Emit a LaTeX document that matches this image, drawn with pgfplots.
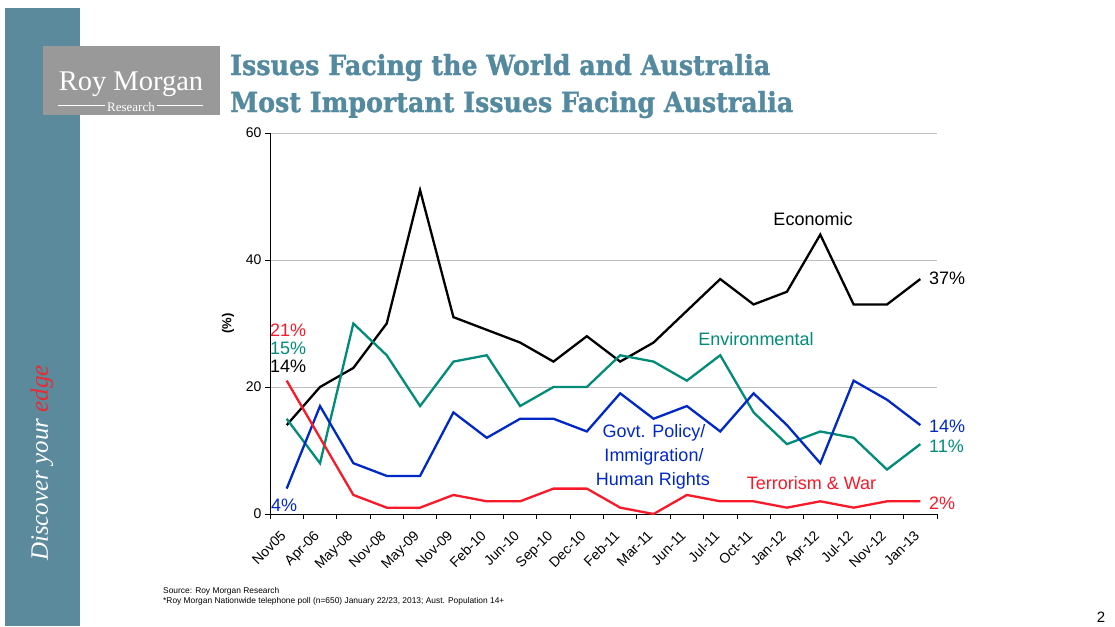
\documentclass[border=0pt]{standalone}
\usepackage{pgfplots}
\pgfplotsset{compat=1.18}
\usepackage{pgfplotstable}
\usepackage{fontspec}
\setmainfont{Liberation Sans}
\newfontfamily\seriffont{Liberation Serif}
\newfontfamily\titlefont{DejaVu Serif}[BoldFeatures={FakeBold=1.2}]
\definecolor{slate}{RGB}{90,138,156}
\definecolor{titlec}{RGB}{84,138,160}
\definecolor{logogray}{RGB}{153,153,153}
\definecolor{envc}{RGB}{0,140,120}
\definecolor{govc}{RGB}{0,40,200}
\definecolor{terc}{RGB}{250,25,40}
\definecolor{edgec}{RGB}{230,45,50}
\definecolor{gridc}{RGB}{190,190,190}

\pgfplotstableread{
x eco env gov ter
0 14 15 4 21
1 20 8 17 12
2 23 30 8 3
3 30 25 6 1
4 51 17 6 1
5 31 24 16 3
6 29 25 12 2
7 27 17 15 2
8 24 20 15 4
9 28 20 13 4
10 24 25 19 1
11 27 24 15 0
12 32 21 17 3
13 37 25 13 2
14 33 16 19 2
15 35 11 14 1
16 44 13 8 2
17 33 12 21 1
18 33 7 18 2
19 37 11 14 2
}\data

\begin{document}
\begin{tikzpicture}
\begin{scope}[x=1pt,y=1pt]
\useasboundingbox (0,0) rectangle (1115,-626);
\fill[white] (0,0) rectangle (1115,-626);
% sidebar
\fill[slate] (5,-8) rectangle (80,-626);
\node[rotate=90, white, inner sep=0, font=\seriffont\itshape\fontsize{25}{25}\selectfont] at (42,-463) {Discover your \textcolor{edgec}{edge}};
% logo
\fill[logogray] (43,-46) rectangle (220,-115);
\node[white, anchor=base, inner sep=0, font=\seriffont\fontsize{28.5}{28.5}\selectfont] at (131,-90) {Roy Morgan};
\node[white, inner sep=1.5pt, font=\seriffont\fontsize{13}{13}\selectfont] (res) at (131,-107) {Research};
\draw[white, line width=0.9pt] (58,-105) -- (res.west |- 0,-105);
\draw[white, line width=0.9pt] (res.east |- 0,-105) -- (203,-105);
% titles
\node[anchor=base west, inner sep=0, text=titlec] at (230,-75) {\resizebox{540pt}{21pt}{\titlefont\bfseries Issues Facing the World and Australia}};
\node[anchor=base west, inner sep=0, text=titlec] at (230,-112) {\resizebox{563pt}{21pt}{\titlefont\bfseries Most Important Issues Facing Australia}};
\end{scope}

\begin{axis}[
  at={(270pt,-514pt)}, anchor=south west,
  scale only axis, width=667pt, height=381pt,
  xmin=-0.5, xmax=19.5, ymin=0, ymax=60,
  axis lines*=left,
  axis line style={black, line width=1pt},
  xtick={-0.5,0.5,...,19.5}, xticklabels={},
  extra x ticks={0,...,19},
  extra x tick labels={Nov05,Apr-06,May-08,Nov-08,May-09,Nov-09,Feb-10,Jun-10,Sep-10,Dec-10,Feb-11,Mar-11,Jun-11,Jul-11,Oct-11,Jan-12,Apr-12,Jul-12,Nov-12,Jan-13},
  extra x tick style={major tick length=0pt, grid=none,
     tick label style={xshift=-7pt, yshift=-14pt, rotate=45, anchor=north east, font=\fontsize{14}{14}\selectfont, inner sep=1pt}},
  ytick={0,20,40,60},
  ymajorgrids, grid style={gridc, line width=0.8pt},
  tick align=outside, major tick length=5pt,
  tick style={black, line width=0.8pt},
  /pgf/number format/assume math mode=true,
  yticklabel style={font=\fontsize{14}{14}\selectfont},
  ylabel={\textbf{(\%)}},
  ylabel style={at={(axis description cs:-0.063,0.5)}, anchor=center, font=\fontsize{13}{13}\selectfont},
  clip=false,
]
\addplot[black, line width=2.3pt] table[x=x, y=eco] {\data};
\addplot[envc, line width=2.3pt] table[x=x, y=env] {\data};
\addplot[govc, line width=2.3pt] table[x=x, y=gov] {\data};
\addplot[terc, line width=2.3pt] table[x=x, y=ter] {\data};
\end{axis}

\begin{scope}[x=1pt,y=1pt]
% annotations
\begin{scope}[every node/.style={inner sep=0, font=\fontsize{18}{18}\selectfont}]
\node[black] at (813,-219) {Economic};
\node[black, anchor=west] at (929,-278) {37\%};
\node[envc] at (756,-339) {Environmental};
\node[govc] at (654,-433) {Govt. Policy/};
\node[govc] at (654,-457) {Immigration/};
\node[govc] at (653,-481) {Human Rights};
\node[terc] at (811.5,-483) {Terrorism \& War};
\node[govc, anchor=west] at (929,-426) {14\%};
\node[envc, anchor=west] at (929,-446) {11\%};
\node[terc, anchor=west] at (929,-503) {2\%};
\node[terc, anchor=west] at (270,-330) {21\%};
\node[envc, anchor=west] at (270,-348) {15\%};
\node[black, anchor=west] at (270,-366) {14\%};
\node[govc, anchor=west] at (271,-505) {4\%};
\end{scope}
% source
\node[anchor=base west, inner sep=0, font=\fontsize{8.4}{8.4}\selectfont] at (163,-593) {Source: Roy Morgan Research};
\node[anchor=base west, inner sep=0, font=\fontsize{8.4}{8.4}\selectfont] at (163,-603) {*Roy Morgan Nationwide telephone poll (n=650) January 22/23, 2013; Aust. Population 14+};
\node[anchor=base, inner sep=0, font=\fontsize{15}{15}\selectfont] at (1101,-622) {2};
\end{scope}
\end{tikzpicture}
\end{document}
